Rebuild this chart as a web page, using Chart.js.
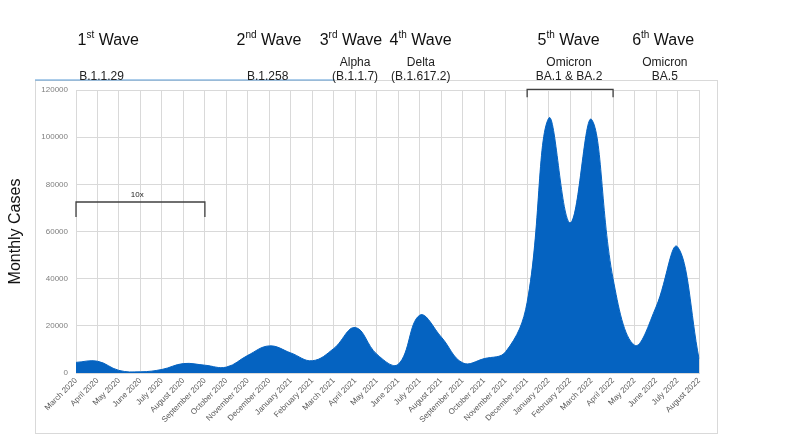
<!DOCTYPE html>
<html>
<head>
<meta charset="utf-8">
<script src="https://cdn.jsdelivr.net/npm/chart.js@4.4.0/dist/chart.umd.min.js"></script>
<style>
  html, body { margin: 0; padding: 0; background: #fff; }
  #wrap { width: 800px; height: 436px; }
</style>
</head>
<body>
<div id="wrap"><canvas id="myChart" width="800" height="436"></canvas></div>
<script>
const months = [
    'March 2020', 'April 2020', 'May 2020', 'June 2020', 'July 2020', 'August 2020',
    'September 2020', 'October 2020', 'November 2020', 'December 2020', 'January 2021',
    'February 2021', 'March 2021', 'April 2021', 'May 2021', 'June 2021', 'July 2021',
    'August 2021', 'September 2021', 'October 2021', 'November 2021', 'December 2021',
    'January 2022', 'February 2022', 'March 2022', 'April 2022', 'May 2022', 'June 2022',
    'July 2022', 'August 2022'
];

const monthlyCases = [
    4500, 5000, 1100, 500, 1500, 4000,
    3300, 2500, 7500, 11500, 8500,
    5200, 10400, 19300, 8000, 3700, 24500,
    15300, 4300, 6100, 9000, 30000,
    108000, 63700, 107500, 40000, 11800, 28000,
    53500, 6100
];

const yTicks = { min: 0, max: 120000, step: 20000 };

// wave headings: [number, suffix, position on the month axis]
const waveNames = [['1', 'st', 1.5], ['2', 'nd', 8.98], ['3', 'rd', 12.8], ['4', 'th', 16.04], ['5', 'th', 22.93], ['6', 'th', 27.33]];
// variant labels: [first line, second line, position on the month axis]
const variantNames = [
    ['', 'B.1.1.29', 1.19],
    ['', 'B.1.258', 8.92],
    ['Alpha', '(B.1.1.7)', 12.99],
    ['Delta', '(B.1.617.2)', 16.05],
    ['Omicron', 'BA.1 & BA.2', 22.95],
    ['Omicron', 'BA.5', 27.41]
];
// brackets: [from month, to month, top value, tick end value, text]
const brackets = [
    [0, 6, 72500, 66100, '10x'],
    [21, 25, 120300, 116900, '']
];

const annotations = {
    id: 'annotations',
    beforeDraw(chart) {
        const ctx = chart.ctx;
        ctx.save();
        ctx.fillStyle = '#fff';
        ctx.fillRect(0, 0, chart.width, chart.height);
        ctx.strokeStyle = '#d9d9d9';
        ctx.lineWidth = 1;
        ctx.strokeRect(35.5, 80.5, 682, 353);
        ctx.restore();
    },
    afterDraw(chart) {
        const ctx = chart.ctx;
        const x = chart.scales.x;
        const y = chart.scales.y;
        ctx.save();

        ctx.strokeStyle = '#5b9bd5';
        ctx.lineWidth = 1.2;
        ctx.beginPath();
        ctx.moveTo(35, 80);
        ctx.lineTo(335, 80);
        ctx.stroke();

        ctx.fillStyle = '#111';
        ctx.textBaseline = 'alphabetic';
        waveNames.forEach(w => {
            const big = '16px "Liberation Sans", Arial, sans-serif';
            const small = '10px "Liberation Sans", Arial, sans-serif';
            ctx.font = big;
            const w1 = ctx.measureText(w[0]).width;
            const w3 = ctx.measureText(' Wave').width;
            ctx.font = small;
            const w2 = ctx.measureText(w[1]).width;
            let left = x.getPixelForValue(w[2]) - (w1 + w2 + w3) / 2;
            ctx.textAlign = 'left';
            ctx.font = big;
            ctx.fillText(w[0], left, 45);
            ctx.font = small;
            ctx.fillText(w[1], left + w1, 38);
            ctx.font = big;
            ctx.fillText(' Wave', left + w1 + w2, 45);
        });

        ctx.font = '12px "Liberation Sans", Arial, sans-serif';
        ctx.textAlign = 'center';
        ctx.fillStyle = '#222';
        variantNames.forEach(v => {
            const cx = x.getPixelForValue(v[2]);
            if (v[0]) ctx.fillText(v[0], cx, 66);
            ctx.fillText(v[1], cx, 80);
        });

        ctx.strokeStyle = '#404040';
        ctx.lineWidth = 1.3;
        brackets.forEach(b => {
            const x0 = x.getPixelForValue(b[0]);
            const x1 = x.getPixelForValue(b[1]);
            const top = y.getPixelForValue(b[2]);
            const end = y.getPixelForValue(b[3]);
            ctx.beginPath();
            ctx.moveTo(x0, end);
            ctx.lineTo(x0, top);
            ctx.lineTo(x1, top);
            ctx.lineTo(x1, end);
            ctx.stroke();
            if (b[4]) {
                ctx.font = '8px "Liberation Sans", Arial, sans-serif';
                ctx.fillStyle = '#222';
                ctx.fillText(b[4], x.getPixelForValue(2.85), top - 5);
            }
        });
        ctx.restore();
    }
};

const ctx = document.getElementById('myChart').getContext('2d');
new Chart(ctx, {
    type: 'line',
    data: {
        labels: months,
        datasets: [
            {
                label: 'Monthly Cases',
                data: monthlyCases,
                fill: 'origin',
                backgroundColor: '#0563c1',
                borderColor: '#0563c1',
                borderWidth: 1,
                pointRadius: 0,
                tension: 0.4
            }
        ]
    },
    options: {
        responsive: false,
        animation: false,
        layout: { padding: { top: 90, right: 101, bottom: 0, left: 0 } },
        plugins: {
            legend: { display: false },
            tooltip: { enabled: false }
        },
        scales: {
            x: {
                afterFit: scale => { scale.height = 63; },
                grid: { color: '#d9d9d9', drawTicks: false },
                border: { color: '#d9d9d9' },
                ticks: {
                    autoSkip: false,
                    minRotation: 45,
                    maxRotation: 45,
                    padding: 3,
                    color: '#595959',
                    font: { size: 8, family: '"Liberation Sans", Arial, sans-serif' }
                }
            },
            y: {
                min: yTicks.min,
                max: yTicks.max,
                afterFit: scale => { scale.width = 76; },
                grid: { color: '#d9d9d9', drawTicks: false },
                border: { color: '#d9d9d9' },
                title: {
                    display: true,
                    text: 'Monthly Cases',
                    color: '#111',
                    padding: { top: 6, bottom: 0 },
                    font: { size: 16, family: '"Liberation Sans", Arial, sans-serif' }
                },
                ticks: {
                    stepSize: yTicks.step,
                    padding: 8,
                    color: '#7f7f7f',
                    font: { size: 8, family: '"Liberation Sans", Arial, sans-serif' },
                    callback: value => String(value)
                }
            }
        }
    },
    plugins: [annotations]
});
</script>
</body>
</html>
